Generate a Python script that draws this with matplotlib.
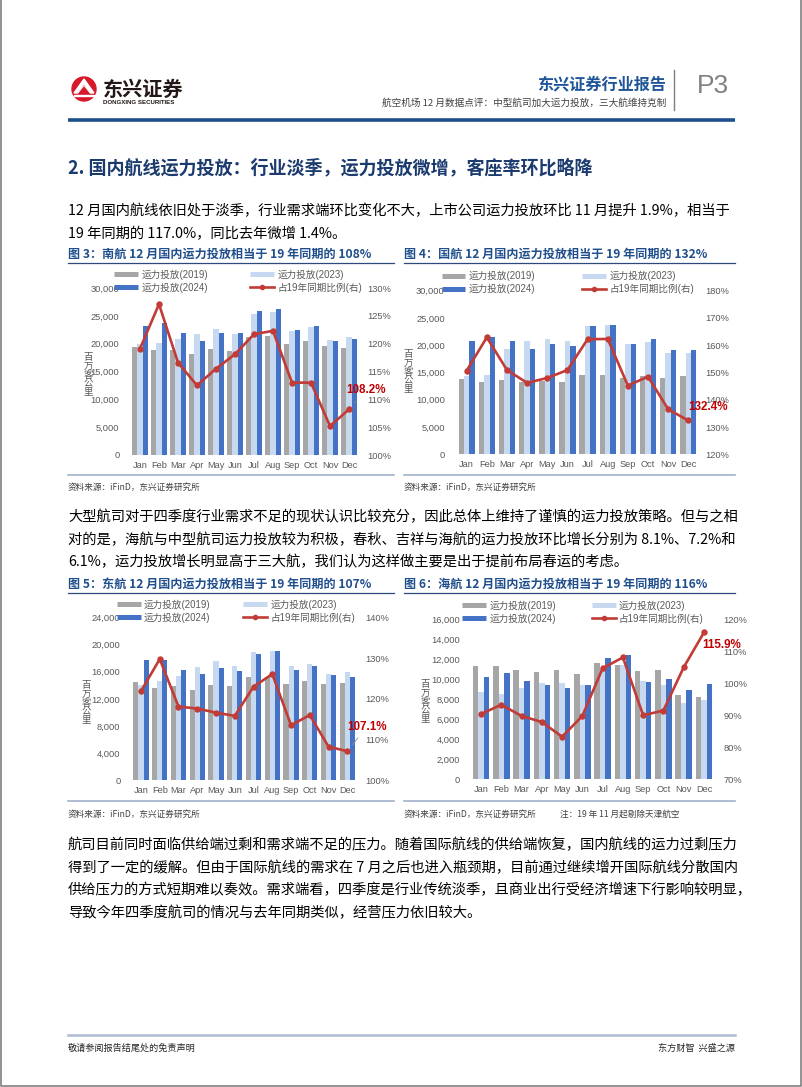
import numpy as np
import matplotlib
matplotlib.use('Agg')
import matplotlib.pyplot as plt
from matplotlib.lines import Line2D
from matplotlib.patches import Circle, Rectangle, Polygon
from matplotlib.ticker import FuncFormatter, MultipleLocator

plt.rcParams['font.family'] = ['Liberation Sans', 'Noto Sans CJK SC', 'DejaVu Sans']
CJK = ['Noto Sans CJK SC', 'DejaVu Sans']

# DATA
months = ['Jan', 'Feb', 'Mar', 'Apr', 'May', 'Jun', 'Jul', 'Aug', 'Sep', 'Oct', 'Nov', 'Dec']
series_names = ['运力投放(2019)', '运力投放(2023)', '运力投放(2024)', '占19年同期比例(右)']

# 南航
csn_2019 = [19400, 18800, 18900, 18200, 19100, 18600, 21200, 21400, 19900, 20400, 19500, 19300]
csn_2023 = [20000, 20200, 20800, 21700, 22700, 21700, 25300, 25600, 22300, 23000, 20700, 21200]
csn_2024 = [23100, 23800, 22000, 20500, 22000, 21900, 25800, 26200, 22400, 23100, 20500, 20900]
csn_ratio = [119.1, 127.1, 116.6, 112.5, 115.5, 118.1, 121.7, 122.3, 113.0, 113.0, 105.2, 108.2]
# 国航
ca_2019 = [13800, 13200, 13700, 13300, 13500, 13200, 14600, 14600, 13900, 14300, 14000, 14400]
ca_2023 = [14300, 14500, 19300, 20700, 21200, 20700, 23500, 23800, 20300, 20600, 18500, 18600]
ca_2024 = [20700, 21500, 20700, 19400, 20200, 19900, 23500, 23800, 20300, 21200, 19100, 19100]
ca_ratio = [150.7, 162.9, 150.9, 146.2, 148.0, 150.9, 162.2, 162.3, 145.2, 148.5, 136.5, 132.4]
# 东航
ce_2019 = [14500, 13600, 13900, 13300, 14100, 13900, 15200, 15200, 14200, 14600, 14200, 14300]
ce_2023 = [14000, 14600, 15400, 16700, 17600, 16900, 18900, 19100, 16900, 17100, 15700, 15900]
ce_2024 = [17700, 17700, 16300, 15700, 16500, 16100, 18700, 19100, 16200, 16900, 15500, 15300]
ce_ratio = [121.9, 129.8, 118.1, 117.6, 116.6, 115.8, 123.0, 126.1, 113.5, 116.0, 108.2, 107.1]
# 海航
hu_2019 = [11300, 11300, 10900, 10700, 10900, 10500, 11600, 11400, 10800, 10900, 8400, 8200]
hu_2023 = [8700, 8500, 9100, 9600, 9600, 9400, 11000, 11400, 9800, 9400, 7600, 7900]
hu_2024 = [10200, 10600, 9800, 9400, 9100, 9400, 12100, 12400, 9700, 10000, 8900, 9500]
hu_ratio = [90.4, 93.3, 89.8, 87.9, 83.3, 89.8, 104.7, 108.1, 90.0, 91.5, 105.0, 115.9]

# colours
GRAY = '#A6A6A6'
LBLUE = '#C6D9F0'
BLUE = '#4472C4'
RED = '#C23B36'
TICK = '#595959'
TITLE_BLUE = '#1F4E8C'

W, H = 802, 1087
fig = plt.figure(figsize=(W / 100, H / 100), dpi=100)

# page overlay in pixel coordinates
ov = fig.add_axes([0, 0, 1, 1], zorder=0)
ov.set_xlim(0, W)
ov.set_ylim(H, 0)
ov.axis('off')


def box(l, t, r, b):
    return [l / W, 1 - b / H, (r - l) / W, (b - t) / H]


def draw_chart(rect, s19, s23, s24, ratio, ylim, ystep, rlim, rstep, leg_xy, colsp,
               ylab_xy, ann, ann_off, leader, lpad, rpad):
    ax = fig.add_axes(box(*rect), zorder=2)
    ax.set_facecolor('none')
    x = np.arange(len(months))
    w = 0.27
    ax.bar(x - w, s19, w, color=GRAY)
    ax.bar(x, s23, w, color=LBLUE)
    ax.bar(x + w, s24, w, color=BLUE)
    ax.set_xlim(-0.5, len(months) - 0.5)
    ax.set_ylim(*ylim)
    ax.yaxis.set_major_locator(MultipleLocator(ystep))
    ax.yaxis.set_major_formatter(FuncFormatter(lambda v, p: f'{int(v):,}'))
    ax.set_xticks(x)
    ax.set_xticklabels(months)
    ax.tick_params(axis='both', length=0, labelsize=6.7, labelcolor=TICK)
    ax.tick_params(axis='y', pad=lpad)
    ax.tick_params(axis='x', pad=4)
    for s in ax.spines.values():
        s.set_visible(False)

    ax2 = ax.twinx()
    ax2.plot(x, ratio, color=RED, lw=1.9, marker='o', ms=3.6, zorder=3)
    ax2.set_ylim(*rlim)
    ax2.yaxis.set_major_locator(MultipleLocator(rstep))
    ax2.yaxis.set_major_formatter(FuncFormatter(lambda v, p: f'{int(round(v))}%'))
    ax2.tick_params(axis='y', length=0, labelsize=6.7, labelcolor=TICK, pad=rpad)
    for s in ax2.spines.values():
        s.set_visible(False)

    # ylabel, stacked characters
    ov.text(ylab_xy[0], ylab_xy[1], '\n'.join('百万客公里'), ha='center', va='center',
            fontsize=6.8, color=TICK, family=CJK, linespacing=0.95)

    # legend
    handles = [Line2D([0], [0], color=GRAY, lw=3.6, solid_capstyle='butt'),
               Line2D([0], [0], color=BLUE, lw=3.6, solid_capstyle='butt'),
               Line2D([0], [0], color=LBLUE, lw=3.6, solid_capstyle='butt'),
               Line2D([0], [0], color=RED, lw=1.9, marker='o', ms=3)]
    labels = [series_names[0], series_names[2], series_names[1], series_names[3]]
    leg = ax2.legend(handles, labels, ncol=2, loc='center', frameon=False,
                     bbox_to_anchor=(leg_xy[0] / W, 1 - leg_xy[1] / H),
                     bbox_transform=fig.transFigure, fontsize=6.9, handlelength=2.5,
                     handletextpad=0.35, columnspacing=colsp, labelspacing=0.3,
                     borderpad=0, borderaxespad=0)
    for t in leg.get_texts():
        t.set_color(TICK)

    # last value label
    arrow = dict(arrowstyle='-', color='#8C8C8C', lw=0.6, shrinkA=2, shrinkB=6) if leader else None
    ax2.annotate(ann, xy=(x[-1], ratio[-1]), xytext=ann_off, textcoords='offset points',
                 ha='center', va='center', fontsize=8.4, fontweight='bold', color='#C00000',
                 arrowprops=arrow, zorder=5)
    return ax, ax2


# ---- header ----
ov.add_patch(Circle((84, 89), 12, color='#D7182A'))
ov.add_patch(Polygon([[74, 93], [84, 79], [94, 93], [91, 93], [84, 83.5], [77, 93]], color='white'))
for dy in (2.5, 5):
    ov.plot([76 + dy * 0.4, 84, 92 - dy * 0.4], [93, 79 + dy + 1.5, 93], color='white', lw=0.6)
ov.add_patch(Rectangle((74, 94.5), 20, 1.5, color='white'))
ov.text(103, 89, '东兴证券', family=CJK, fontsize=14.5, fontweight='bold', color='#231815',
        ha='left', va='center')
ov.text(103, 102, 'DONGXING SECURITIES', fontsize=4.4, fontweight='bold', color='#231815',
        ha='left', va='center')
ov.text(666, 84, '东兴证券行业报告', family=CJK, fontsize=11.6, fontweight='bold',
        color='#1F5597', ha='right', va='center')
ov.text(666, 103, '航空机场 12 月数据点评：中型航司加大运力投放，三大航维持克制', family=CJK,
        fontsize=6.9, color='#404040', ha='right', va='center')
ov.plot([674, 674], [70, 110], color='#7F7F7F', lw=1.0)
ov.text(697, 86, 'P3', fontsize=19, color='#808080', ha='left', va='center')
ov.plot([68, 735], [120, 120], color='#1F4E8C', lw=2.6, solid_capstyle='butt')

ov.text(68, 168, '2. 国内航线运力投放：行业淡季，运力投放微增，客座率环比略降', family=CJK,
        fontsize=13, fontweight='bold', color='#1B3B6F', ha='left', va='center')

body_fs = 10.3
para1 = ['12 月国内航线依旧处于淡季，行业需求端环比变化不大，上市公司运力投放环比 11 月提升 1.9%，相当于',
         '19 年同期的 117.0%，同比去年微增 1.4%。']
for i, line in enumerate(para1):
    ov.text(68, 211 + i * 23, line, family=CJK, fontsize=body_fs, color='black', ha='left', va='center')

para2 = ['大型航司对于四季度行业需求不足的现状认识比较充分，因此总体上维持了谨慎的运力投放策略。但与之相',
         '对的是，海航与中型航司运力投放较为积极，春秋、吉祥与海航的运力投放环比增长分别为 8.1%、7.2%和',
         '6.1%，运力投放增长明显高于三大航，我们认为这样做主要是出于提前布局春运的考虑。']
for i, line in enumerate(para2):
    ov.text(68, 517 + i * 22.5, line, family=CJK, fontsize=body_fs, color='black', ha='left', va='center')

para3 = ['航司目前同时面临供给端过剩和需求端不足的压力。随着国际航线的供给端恢复，国内航线的运力过剩压力',
         '得到了一定的缓解。但由于国际航线的需求在 7 月之后也进入瓶颈期，目前通过继续增开国际航线分散国内',
         '供给压力的方式短期难以奏效。需求端看，四季度是行业传统淡季，且商业出行受经济增速下行影响较明显，',
         '导致今年四季度航司的情况与去年同期类似，经营压力依旧较大。']
for i, line in enumerate(para3):
    ov.text(68, 845 + i * 22.7, line, family=CJK, fontsize=body_fs, color='black', ha='left', va='center')

# ---- figure titles, rules, sources ----
fig_titles = [(68, 254, '图 3：南航 12 月国内运力投放相当于 19 年同期的 108%'),
              (404, 254, '图 4：国航 12 月国内运力投放相当于 19 年同期的 132%'),
              (68, 584, '图 5：东航 12 月国内运力投放相当于 19 年同期的 107%'),
              (404, 584, '图 6：海航 12 月国内运力投放相当于 19 年同期的 116%')]
for tx, ty, t in fig_titles:
    ov.text(tx, ty, t, family=CJK, fontsize=8.7, fontweight='bold', color=TITLE_BLUE,
            ha='left', va='center')
for (x0, x1) in [(68, 394), (404, 735)]:
    ov.plot([x0, x1], [263, 263], color='#2E4A7D', lw=0.9)
    ov.plot([x0, x1], [475, 475], color='#9FB1CC', lw=1.2)
    ov.plot([x0, x1], [593, 593], color='#2E4A7D', lw=0.9)
    ov.plot([x0, x1], [801, 801], color='#9FB1CC', lw=1.2)
src = '资料来源：iFinD，东兴证券研究所'
for sx, sy in [(68, 487), (404, 487), (68, 814), (404, 814)]:
    ov.text(sx, sy, src, family=CJK, fontsize=6.2, color='#404040', ha='left', va='center')
ov.text(560, 814, '注：19 年 11 月起剔除天津航空', family=CJK, fontsize=6.2, color='#404040',
        ha='left', va='center')

# ---- charts ----
draw_chart((130.5, 288, 358.5, 455), csn_2019, csn_2023, csn_2024, csn_ratio,
           (0, 30000), 5000, (100, 130), 5, (238, 281), 4.4, (88, 375),
           '108.2%', (12, 14), True, 8, 6)
draw_chart((456.6, 290.7, 698.4, 454.3), ca_2019, ca_2023, ca_2024, ca_ratio,
           (0, 30000), 5000, (120, 180), 10, (568, 282.5), 4.9, (408, 372),
           '132.4%', (14, 9.5), False, 8.5, 5)
draw_chart((131.6, 617.7, 356.7, 780), ce_2019, ce_2023, ce_2024, ce_ratio,
           (0, 24000), 4000, (100, 140), 10, (236, 611), 3.4, (86, 703),
           '107.1%', (14, 17.5), True, 8, 6)
draw_chart((470.9, 619.3, 714.1, 779.3), hu_2019, hu_2023, hu_2024, hu_ratio,
           (0, 16000), 2000, (70, 120), 10, (583, 612), 3.7, (425, 702),
           '115.9%', (13, -9), False, 8, 6.5)

# ---- footer ----
ov.plot([68, 735], [1035, 1035], color='#ADBDD3', lw=1.8)
ov.text(68, 1048, '敬请参阅报告结尾处的免责声明', family=CJK, fontsize=6.6, color='#262626',
        ha='left', va='center')
ov.text(735, 1048, '东方财智  兴盛之源', family=CJK, fontsize=6.6, color='#262626',
        ha='right', va='center')

# page border
ov.plot([0.5, 0.5, W - 0.8, W - 0.8], [0, H - 0.8, H - 0.8, 0], color='#808080', lw=1.2)

fig.savefig('out.png', dpi=100)
